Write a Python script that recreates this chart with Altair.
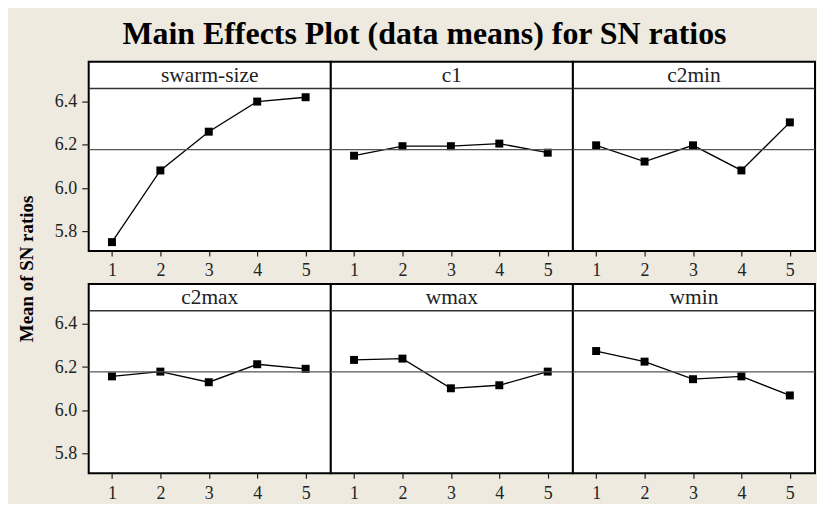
import altair as alt
import pandas as pd

# ---- data ----
factors = ["swarm-size", "c1", "c2min", "c2max", "wmax", "wmin"]
levels = [1, 2, 3, 4, 5]
swarm_size = [5.751, 6.082, 6.261, 6.400, 6.420]
c1 = [6.150, 6.194, 6.194, 6.206, 6.164]
c2min = [6.198, 6.123, 6.198, 6.082, 6.304]
c2max = [6.157, 6.179, 6.130, 6.213, 6.192]
wmax = [6.233, 6.239, 6.102, 6.116, 6.179]
wmin = [6.274, 6.225, 6.144, 6.157, 6.069]
grand_mean = [6.178]
y_ticks = [5.8, 6.0, 6.2, 6.4]
title_text = ["Main Effects Plot (data means) for SN ratios"]
y_label = ["Mean of SN ratios"]

series = [swarm_size, c1, c2min, c2max, wmax, wmin]

# ---- style / layout ----
BEIGE = "#EEEAE0"
SERIF = "Liberation Serif"
W = 243
H = 190
HEADER = 27
XDOM = [0.52, 5.52]
YDOM = [5.71, 6.584]


def panel(name, vals, show_y, first=False):
    df = pd.DataFrame({"level": levels, "mean": vals})
    xs = alt.Scale(domain=XDOM, nice=False, zero=False)
    ys = alt.Scale(domain=YDOM, nice=False, zero=False)
    xaxis = alt.Axis(values=levels, title=None, format="d", tickSize=5,
                     tickWidth=1.2, tickColor="#222", labelPadding=6,
                     domain=False, grid=False, labelAngle=0,
                     labelFont=SERIF, labelFontSize=18, labelColor="#222")
    if show_y:
        yaxis = alt.Axis(values=y_ticks, title=None, format=".1f", tickSize=7,
                         tickWidth=1.2, tickColor="#222", labelPadding=5,
                         domain=False, grid=False, labelFont=SERIF,
                         labelFontSize=18, labelColor="#222")
    else:
        yaxis = None
    x = alt.X("level:Q", scale=xs, axis=xaxis)
    y = alt.Y("mean:Q", scale=ys, axis=yaxis)
    base = alt.Chart(df)
    line = base.mark_line(color="black", strokeWidth=1.3).encode(x=x, y=y)
    pts = base.mark_square(size=64, color="black", opacity=1).encode(x=x, y=y)
    gm = alt.Chart(pd.DataFrame({"mean": grand_mean})).mark_rule(
        color="#555555", strokeWidth=1.2).encode(y=y)
    hline = alt.Chart(pd.DataFrame({"a": [0]})).mark_rule(
        color="#333333", strokeWidth=1.5).encode(
        x=alt.value(0), x2=alt.value(W), y=alt.value(HEADER))
    htext = alt.Chart(pd.DataFrame({"name": [name]})).mark_text(
        font=SERIF, fontSize=21.5, color="#222", align="center",
        baseline="middle").encode(
        text="name:N", x=alt.value(W / 2), y=alt.value(HEADER / 2 + 1))
    layers = [line, pts, gm, hline, htext]
    if first:
        bounds = alt.Chart(pd.DataFrame({"a": [0]})).mark_rect(opacity=0).encode(
            x=alt.value(-80), x2=alt.value(729), y=alt.value(-52), y2=alt.value(442))
        ttl = alt.Chart(pd.DataFrame({"t": title_text})).mark_text(
            font=SERIF, fontSize=32, fontWeight="bold", color="black",
            align="center", baseline="alphabetic").encode(
            text="t:N", x=alt.value(337), y=alt.value(-18))
        ylab = alt.Chart(pd.DataFrame({"t": y_label})).mark_text(
            font=SERIF, fontSize=19, fontWeight="bold", color="black",
            align="center", baseline="middle", angle=270).encode(
            text="t:N", x=alt.value(-62), y=alt.value(208))
        layers = layers + [bounds, ttl, ylab]
    return alt.layer(*layers).properties(width=W, height=H)


panels = [panel(factors[i], series[i], i % 3 == 0, first=(i == 0))
          for i in range(6)]

chart = alt.concat(*panels, columns=3, spacing={"row": 33, "column": 0},
                   bounds="flush").properties(
    padding=0
).configure(background=BEIGE).configure_view(
    stroke="black", strokeWidth=2, fill="white")

chart.save("out.html", embed_options={"renderer": "svg", "actions": False})
